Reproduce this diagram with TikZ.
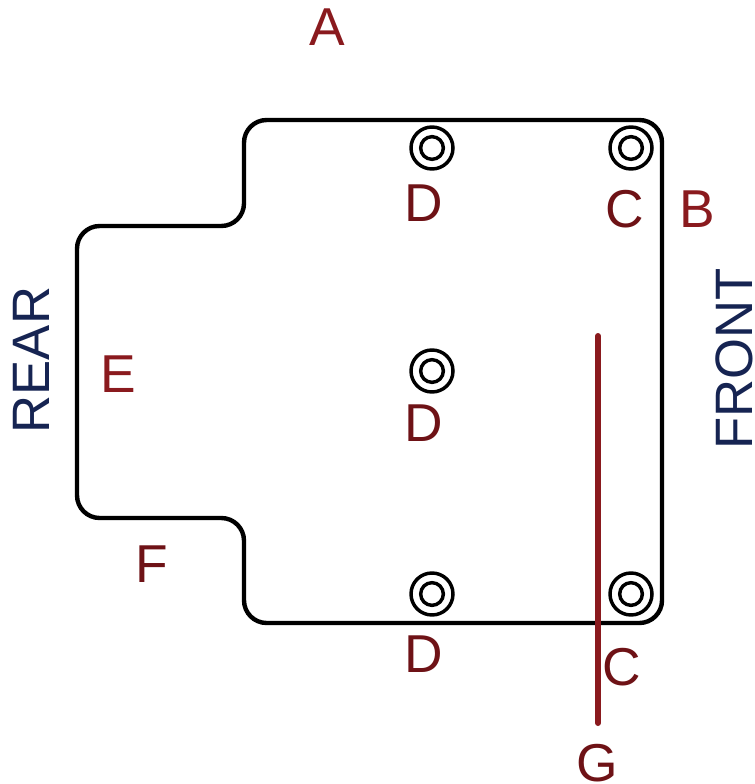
\documentclass[tikz,border=0pt]{standalone}
\usepackage{fontspec}
\setmainfont{Liberation Sans}
\definecolor{markred}{RGB}{138,26,30}
\definecolor{markdark}{RGB}{110,18,22}
\definecolor{sidenavy}{RGB}{22,36,82}
\tikzset{
  letter/.style={text=markred, font=\fontsize{40}{40}\selectfont, inner sep=0pt},
  letterdark/.style={letter, text=markdark},
  sidetext/.style={text=sidenavy, font=\fontsize{39.5}{39.5}\selectfont, inner sep=0pt, rotate=90},
}
\newcommand{\hole}[1]{%
\draw[line width=2.6pt] (#1) circle (15.75pt);
\draw[line width=2.6pt] (#1) circle (8.5pt);
}
\begin{document}
\begin{tikzpicture}[x=0.75pt,y=-0.75pt]
\useasboundingbox (0,0) rectangle (754,784);
\coordinate (d1) at (432,148);
\coordinate (d2) at (432,371);
\coordinate (d3) at (432,594);
\coordinate (c1) at (631,148);
\coordinate (c2) at (631,594);
\coordinate (g1) at (598,336);
\coordinate (g2) at (598,723);
\draw[line width=3.3pt, rounded corners=17pt] (244,120) -- (662,120) -- (662,623) -- (244,623) -- (244,518) -- (77,518) -- (77,226) -- (244,226) -- cycle;
\hole{d1}
\hole{d2}
\hole{d3}
\hole{c1}
\hole{c2}
\draw[line width=4.5pt, color=markred, line cap=round] (g1)--(g2);
\node[letter] (a) at (327,27) {A};
\node[letter] (b) at (697,209) {B};
\node[letterdark] (c) at (625,209) {C};
\node[letterdark] (cc) at (622,667) {C};
\node[letterdark] (da) at (424,203) {D};
\node[letterdark] (db) at (424,423) {D};
\node[letterdark] (dc) at (424,654) {D};
\node[letter] (e) at (118,374) {E};
\node[letterdark] (f) at (152,564) {F};
\node[letterdark] (g) at (597,763) {G};
\node[sidetext] (rear) at (31,360) {REAR};
\node[sidetext] (front) at (734,359) {FRONT};
\end{tikzpicture}
\end{document}
